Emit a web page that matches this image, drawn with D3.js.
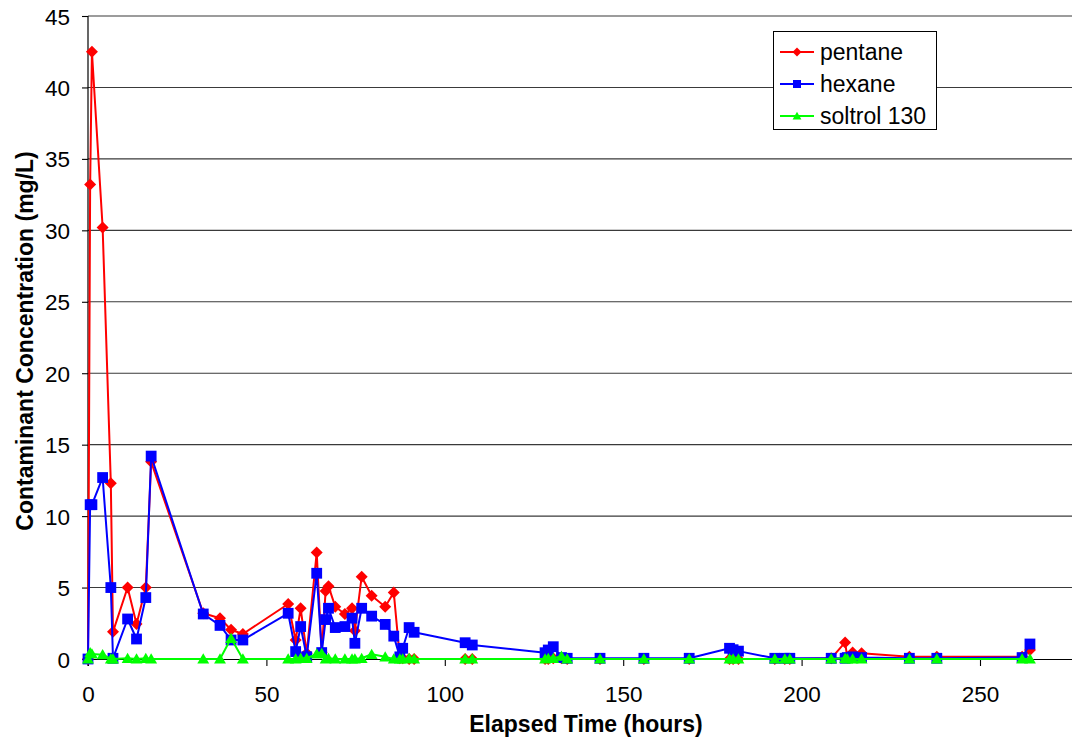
<!DOCTYPE html>
<html>
<head>
<meta charset="utf-8">
<script src="https://cdn.jsdelivr.net/npm/d3@7"></script>
<style>
  html, body { margin: 0; padding: 0; background: #fff; }
  svg { display: block; font-family: "Liberation Sans", Arial, sans-serif; }
</style>
</head>
<body>
<svg id="chart" width="1072" height="738"></svg>
<script>
// Sampling times (hours since start)
const hours = [0, 0.6, 1.1, 4.1, 6.4, 7.0, 11.1, 13.6, 16.2, 17.7, 32.3, 37.0, 40.1, 43.4,
  56.1, 58.2, 59.6, 61.3, 64.1, 65.5, 66.6, 67.4, 69.3, 72.0, 74.0, 74.8, 76.7, 79.5, 83.3, 85.7,
  87.4, 88.2, 90.0, 91.4, 105.7, 107.7, 128.1, 129.0, 130.4, 132.7, 134.3, 143.5, 155.8, 168.5,
  179.8, 180.8, 182.3, 192.5, 195.3, 196.7, 208.3, 212.2, 212.8, 214.3, 216.8, 230.2, 237.9, 261.8, 264.0];

// Concentrations (mg/L) per contaminant
const pentane = [0, 33.2, 42.5, 30.2, 12.3, 1.9, 5.0, 2.45, 5.0, 13.8, 3.2, 2.85, 2.05, 1.75,
  3.85, 1.33, 3.55, 0.4, 7.45, 0.47, 4.76, 5.1, 3.66, 3.15, 3.55, 1.98, 5.76, 4.43, 3.66, 4.65,
  0.05, 0.05, 0, 0, 0, 0, 0, 0, 0.05, 0.05, 0, 0, 0, 0,
  0, 0, 0, 0, 0, 0, 0.05, 1.16, 0.1, 0.45, 0.4, 0.15, 0.15, 0.15, 0.63];

const hexane = [0, 10.8, 10.8, 12.7, 5.0, 0.05, 2.8, 1.4, 4.3, 14.2, 3.15, 2.35, 1.33, 1.33,
  3.2, 0.52, 2.27, 0.16, 6.0, 0.45, 2.76, 3.55, 2.2, 2.27, 2.86, 1.1, 3.55, 3.0, 2.42, 1.6,
  0.15, 0.75, 2.2, 1.87, 1.14, 0.98, 0.44, 0.63, 0.86, 0.1, 0.05, 0.05, 0.05, 0.05,
  0.75, 0.65, 0.55, 0.05, 0.05, 0.05, 0.05, 0.05, 0.1, 0.15, 0.1, 0.05, 0.05, 0.1, 1.05];

const soltrol = [0, 0.45, 0.35, 0.3, 0, 0, 0.05, 0, 0.05, 0, 0, 0, 1.45, 0,
  0, 0, 0.05, 0.05, 0.35, 0.4, 0, 0.05, 0, 0, 0, 0, 0.05, 0.33, 0.15, 0,
  0, 0, 0.05, 0, 0, 0, 0, 0.05, 0.05, 0.2, 0, 0, 0, 0,
  0, 0, 0, 0, 0, 0, 0, 0.05, 0, 0, 0, 0, 0, 0, 0];

const seriesNames = ["pentane", "hexane", "soltrol 130"];
const seriesColors = ["#ff0000", "#0000ff", "#00ff00"];
const seriesShapes = ["diamond", "square", "triangle"];
const xTicks = [0, 50, 100, 150, 200, 250];
const yTicks = [0, 5, 10, 15, 20, 25, 30, 35, 40, 45];

const svg = d3.select("#chart");
const plot = { left: 88, top: 16, bottom: 659 };

const x = d3.scaleLinear().domain([0, 300]).range([plot.left, plot.left + 300 * 3.568]);
const y = d3.scaleLinear().domain([0, 45]).range([plot.bottom, plot.top]);

// Horizontal gridlines
svg.append("g")
  .selectAll("line")
  .data(yTicks.filter(d => d > 0))
  .join("line")
  .attr("x1", plot.left).attr("x2", 1072)
  .attr("y1", d => y(d)).attr("y2", d => y(d))
  .attr("stroke", "#3a3a3a").attr("stroke-width", 1.1);

// Axes
const fontSize = 22.5;
const xAxis = svg.append("g")
  .attr("transform", `translate(0,${plot.bottom})`)
  .call(d3.axisBottom(x).tickValues(xTicks).tickSize(7).tickPadding(20).tickSizeOuter(0));
const yAxis = svg.append("g")
  .attr("transform", `translate(${plot.left},0)`)
  .call(d3.axisLeft(y).tickValues(yTicks).tickSize(6).tickPadding(12).tickSizeOuter(0));

[xAxis, yAxis].forEach(g => {
  g.select(".domain").attr("stroke", "#000").attr("stroke-width", 1.2);
  g.selectAll(".tick line").attr("stroke", "#000").attr("stroke-width", 1.1);
  g.selectAll("text").attr("font-size", fontSize).attr("fill", "#000")
    .attr("font-family", "Liberation Sans, Arial, sans-serif");
});
xAxis.select(".domain").attr("d", `M${plot.left},0.5H1072`);
yAxis.select(".domain").attr("d", `M0,${plot.top}V${plot.bottom + 7}`);
yAxis.selectAll("text").attr("dy", "0.36em");
xAxis.selectAll("text").attr("dy", "0.72em");

// Axis titles
svg.append("text")
  .attr("x", 586).attr("y", 732)
  .attr("text-anchor", "middle")
  .attr("font-size", 23).attr("font-weight", "bold")
  .text("Elapsed Time (hours)");

svg.append("text")
  .attr("transform", "translate(33,341) rotate(-90)")
  .attr("text-anchor", "middle")
  .attr("font-size", 23).attr("font-weight", "bold")
  .text("Contaminant Concentration (mg/L)");

// Marker shapes centred on (0,0)
function markerPath(shape, s) {
  if (shape === "diamond") return `M0,${-s}L${s},0L0,${s}L${-s},0Z`;
  if (shape === "square") return `M${-s},${-s}H${s}V${s}H${-s}Z`;
  const h = s * 1.9;
  return `M0,${-h * 0.55}L${s * 1.1},${h * 0.45}L${-s * 1.1},${h * 0.45}Z`;
}

const seriesValues = [pentane, hexane, soltrol];
const line = d3.line().x(d => x(d[0])).y(d => y(d[1]));

seriesValues.forEach((vals, i) => {
  const pts = hours.map((h, k) => [h, vals[k]]);
  const g = svg.append("g");
  g.append("path")
    .attr("d", line(pts))
    .attr("fill", "none")
    .attr("stroke", seriesColors[i])
    .attr("stroke-width", 2)
    .attr("stroke-linejoin", "round");
  const size = [6, 5.4, 5.4][i];
  g.selectAll("path.m")
    .data(pts)
    .join("path")
    .attr("class", "m")
    .attr("transform", d => `translate(${x(d[0])},${y(d[1])})`)
    .attr("d", markerPath(seriesShapes[i], size))
    .attr("fill", seriesColors[i]);
});

// Legend
const legend = svg.append("g");
legend.append("rect")
  .attr("x", 773.5).attr("y", 31.5).attr("width", 163).attr("height", 98)
  .attr("fill", "#fff").attr("stroke", "#000").attr("stroke-width", 1);
const rowY = [52, 84, 116];
seriesNames.forEach((name, i) => {
  const ry = rowY[i];
  legend.append("line")
    .attr("x1", 780).attr("x2", 814).attr("y1", ry).attr("y2", ry)
    .attr("stroke", seriesColors[i]).attr("stroke-width", 2);
  legend.append("path")
    .attr("transform", `translate(797,${ry})`)
    .attr("d", markerPath(seriesShapes[i], [4.5, 4, 4][i]))
    .attr("fill", seriesColors[i]);
  legend.append("text")
    .attr("x", 820).attr("y", ry + 8)
    .attr("font-size", 23)
    .text(name);
});
</script>
</body>
</html>
